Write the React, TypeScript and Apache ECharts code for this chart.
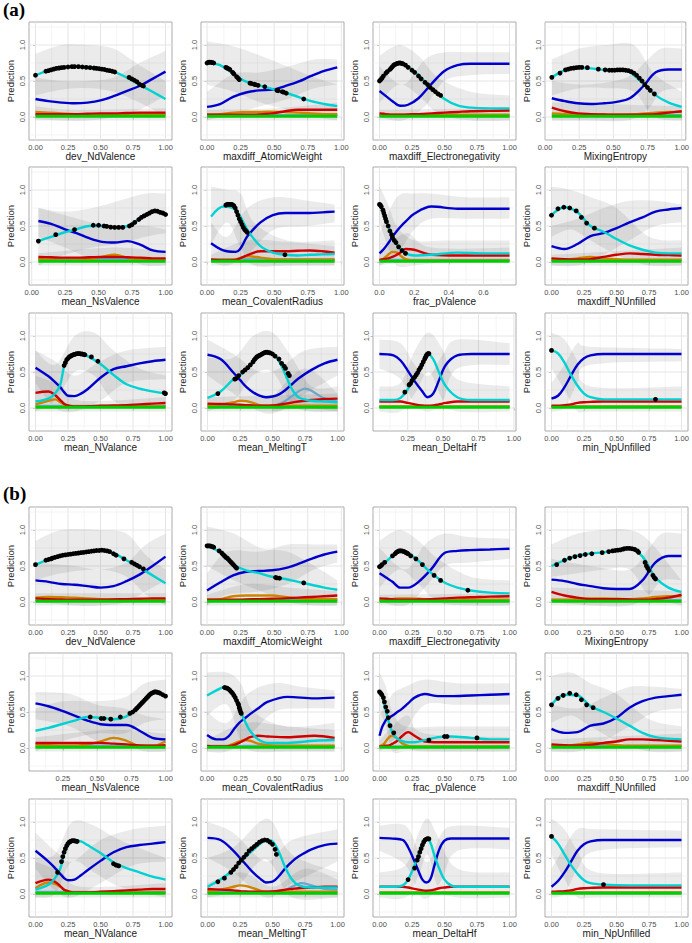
import React, { useEffect, useRef } from "react";
import * as echarts from "echarts";

// ---------- DATA ----------
const TITLES = [
  "dev_NdValence", "maxdiff_AtomicWeight", "maxdiff_Electronegativity", "MixingEntropy",
  "mean_NsValence", "mean_CovalentRadius", "frac_pValence", "maxdiff_NUnfilled",
  "mean_NValance", "mean_MeltingT", "mean_DeltaHf", "min_NpUnfilled",
];
const BLOCK_LABELS = ["(a)", "(b)"];
const Y_RANGE = [-0.32, 1.32];
const Y_TICKS = [0, 0.5, 1.0];

// x sample positions of the read curves
const U = [0, 0.1, 0.2, 0.3, 0.4, 0.5, 0.6, 0.7, 0.8, 0.9, 1.0];
const UW = [0, 0.097, 0.194, 0.291, 0.388, 0.485, 0.582, 0.679, 0.776, 0.873, 0.97];
const UM = [0.05, 0.145, 0.24, 0.335, 0.43, 0.525, 0.62, 0.715, 0.81, 0.905, 1.0];
const UC = [0.03, 0.122, 0.214, 0.306, 0.398, 0.49, 0.582, 0.674, 0.766, 0.858, 0.95];
const XE = [0, 0.05, 0.1, 0.16, 0.22, 0.3, 0.4, 0.5, 0.6, 0.7, 0.85, 1.0];
const XF = [0, 0.025, 0.05, 0.075, 0.1, 0.125, 0.15, 0.2, 0.3, 0.45, 0.6, 0.75];
const XN = [0, 0.1, 0.15, 0.19, 0.22, 0.25, 0.3, 0.35, 0.4, 0.5, 0.6, 0.7, 0.8, 0.9, 1.0];
const XT = [0, 0.1, 0.2, 0.25, 0.3, 0.35, 0.4, 0.45, 0.5, 0.55, 0.6, 0.65, 0.7, 0.8, 0.9, 1.0];
const XH_A = [0.05, 0.15, 0.2, 0.25, 0.3, 0.35, 0.39, 0.43, 0.47, 0.52, 0.6, 0.7, 0.85, 0.97];
const XP = [0, 0.05, 0.1, 0.15, 0.2, 0.25, 0.3, 0.4, 0.6, 0.8, 1.0];
const XC_B = [0, 0.07, 0.12, 0.16, 0.2, 0.24, 0.28, 0.32, 0.38, 0.45, 0.6, 0.8, 0.95];
const XF_B = [0, 0.02, 0.04, 0.06, 0.08, 0.1, 0.13, 0.17, 0.22, 0.27, 0.35, 0.45, 0.55, 0.7, 0.85, 1.0];
const XH_B = [0, 0.1, 0.18, 0.22, 0.27, 0.3, 0.33, 0.36, 0.39, 0.42, 0.46, 0.5, 0.55, 0.6, 0.8, 1.0];

const XS_A = [U, UW, XE, UM, UM, UC, XF, U, XN, XT, XH_A, XP];
const XS_B = [U, UW, XE, U, UM, XC_B, XF_B, U, XN, XT, XH_B, XP];

const X_RANGE_A = [[-0.05, 1.05], [-0.045, 1.02], [-0.05, 1.05], [0, 1.03], [-0.02, 1.048], [-0.045, 1.02],
  [-0.0375, 0.7875], [-0.05, 1.05], [-0.05, 1.05], [-0.05, 1.05], [0.005, 1.015], [-0.05, 1.05]];
const X_RANGE_B = [[-0.05, 1.05], [-0.045, 1.02], [-0.05, 1.05], [-0.05, 1.05], [0.0025, 1.0475], [-0.045, 1.02],
  [-0.05, 1.05], [-0.05, 1.05], [-0.05, 1.05], [-0.05, 1.05], [-0.05, 1.05], [-0.05, 1.05]];
const X_STEP_A = [0.25, 0.25, 0.25, 0.25, 0.25, 0.25, 0.2, 0.25, 0.25, 0.25, 0.25, 0.25];
const X_STEP_B = [0.25, 0.25, 0.25, 0.25, 0.25, 0.25, 0.25, 0.25, 0.25, 0.25, 0.25, 0.25];

const CYAN_A = [
  [0.58, 0.645, 0.685, 0.70, 0.695, 0.675, 0.63, 0.55, 0.45, 0.35, 0.25],
  [0.75, 0.72, 0.60, 0.49, 0.44, 0.39, 0.34, 0.28, 0.22, 0.18, 0.15],
  [0.50, 0.60, 0.69, 0.75, 0.70, 0.58, 0.40, 0.25, 0.16, 0.13, 0.12, 0.12],
  [0.55, 0.65, 0.685, 0.675, 0.655, 0.65, 0.62, 0.47, 0.30, 0.20, 0.14],
  [0.29, 0.35, 0.41, 0.455, 0.50, 0.50, 0.48, 0.50, 0.61, 0.70, 0.66],
  [0.63, 0.77, 0.72, 0.43, 0.22, 0.13, 0.10, 0.09, 0.10, 0.105, 0.11],
  [0.80, 0.68, 0.50, 0.36, 0.25, 0.17, 0.12, 0.09, 0.10, 0.13, 0.12, 0.12],
  [0.65, 0.76, 0.69, 0.50, 0.42, 0.32, 0.23, 0.17, 0.13, 0.12, 0.12],
  [0.09, 0.13, 0.20, 0.32, 0.58, 0.69, 0.745, 0.755, 0.72, 0.61, 0.46, 0.33, 0.27, 0.23, 0.20],
  [0.14, 0.23, 0.40, 0.455, 0.54, 0.64, 0.73, 0.775, 0.76, 0.65, 0.46, 0.26, 0.15, 0.10, 0.09, 0.08],
  [0.11, 0.11, 0.14, 0.26, 0.42, 0.60, 0.75, 0.68, 0.50, 0.30, 0.15, 0.11, 0.11, 0.11],
  [0.80, 0.76, 0.63, 0.46, 0.31, 0.20, 0.15, 0.12, 0.12, 0.12, 0.12],
];
const BLUE_A = [
  [0.25, 0.22, 0.20, 0.19, 0.20, 0.23, 0.29, 0.36, 0.43, 0.53, 0.63],
  [0.14, 0.18, 0.28, 0.34, 0.37, 0.38, 0.43, 0.49, 0.57, 0.64, 0.69],
  [0.36, 0.29, 0.22, 0.155, 0.17, 0.26, 0.46, 0.64, 0.72, 0.74, 0.74, 0.74],
  [0.26, 0.22, 0.19, 0.18, 0.19, 0.21, 0.26, 0.42, 0.62, 0.66, 0.66],
  [0.57, 0.53, 0.46, 0.40, 0.33, 0.28, 0.27, 0.29, 0.24, 0.16, 0.14],
  [0.26, 0.16, 0.14, 0.37, 0.55, 0.65, 0.68, 0.68, 0.68, 0.69, 0.70],
  [0.12, 0.18, 0.26, 0.35, 0.43, 0.50, 0.56, 0.67, 0.77, 0.74, 0.74, 0.74],
  [0.22, 0.18, 0.25, 0.36, 0.40, 0.47, 0.55, 0.62, 0.70, 0.73, 0.75],
  [0.56, 0.44, 0.36, 0.29, 0.22, 0.17, 0.165, 0.20, 0.26, 0.42, 0.54, 0.58, 0.62, 0.65, 0.67],
  [0.74, 0.68, 0.49, 0.39, 0.29, 0.22, 0.17, 0.15, 0.16, 0.19, 0.25, 0.33, 0.41, 0.53, 0.62, 0.67],
  [0.75, 0.73, 0.66, 0.52, 0.37, 0.24, 0.15, 0.20, 0.38, 0.60, 0.73, 0.75, 0.75, 0.75],
  [0.13, 0.17, 0.29, 0.45, 0.60, 0.69, 0.73, 0.75, 0.75, 0.75, 0.75],
];
const RED_A = [
  [0.04, 0.04, 0.04, 0.04, 0.045, 0.05, 0.05, 0.055, 0.06, 0.06, 0.06],
  [0.03, 0.03, 0.03, 0.03, 0.035, 0.05, 0.08, 0.10, 0.10, 0.10, 0.10],
  [0.05, 0.04, 0.03, 0.03, 0.035, 0.04, 0.05, 0.06, 0.07, 0.08, 0.085, 0.09],
  [0.13, 0.08, 0.05, 0.04, 0.035, 0.03, 0.03, 0.035, 0.04, 0.06, 0.08],
  [0.07, 0.065, 0.06, 0.06, 0.065, 0.07, 0.07, 0.065, 0.06, 0.05, 0.05],
  [0.03, 0.02, 0.03, 0.10, 0.15, 0.15, 0.15, 0.155, 0.16, 0.15, 0.13],
  [0.03, 0.04, 0.05, 0.07, 0.10, 0.14, 0.18, 0.17, 0.10, 0.09, 0.09, 0.09],
  [0.05, 0.04, 0.035, 0.04, 0.07, 0.10, 0.12, 0.11, 0.10, 0.095, 0.09],
  [0.21, 0.23, 0.18, 0.11, 0.06, 0.035, 0.02, 0.02, 0.025, 0.03, 0.035, 0.04, 0.05, 0.06, 0.07],
  [0.06, 0.055, 0.05, 0.045, 0.04, 0.035, 0.03, 0.03, 0.035, 0.045, 0.06, 0.075, 0.09, 0.11, 0.125, 0.13],
  [0.09, 0.09, 0.09, 0.07, 0.05, 0.035, 0.03, 0.035, 0.05, 0.07, 0.09, 0.09, 0.09, 0.09],
  [0.03, 0.03, 0.04, 0.05, 0.07, 0.08, 0.085, 0.09, 0.09, 0.09, 0.09],
];
const ORANGE_A = [
  [0.07, 0.06, 0.05, 0.04, 0.04, 0.04, 0.04, 0.04, 0.04, 0.04, 0.04],
  [0.03, 0.04, 0.06, 0.07, 0.07, 0.075, 0.07, 0.06, 0.05, 0.04, 0.04],
  [0.03, 0.03, 0.03, 0.03, 0.03, 0.03, 0.03, 0.03, 0.03, 0.03, 0.03, 0.03],
  [0.05, 0.04, 0.03, 0.03, 0.03, 0.03, 0.035, 0.045, 0.06, 0.07, 0.075],
  [0.04, 0.03, 0.02, 0.025, 0.04, 0.07, 0.10, 0.06, 0.03, 0.03, 0.03],
  [0.03, 0.03, 0.04, 0.08, 0.06, 0.04, 0.03, 0.03, 0.03, 0.03, 0.03],
  [0.02, 0.05, 0.10, 0.14, 0.13, 0.08, 0.04, 0.02, 0.02, 0.02, 0.02, 0.02],
  [0.03, 0.03, 0.05, 0.07, 0.05, 0.04, 0.03, 0.03, 0.03, 0.03, 0.03],
  [0.05, 0.10, 0.12, 0.08, 0.05, 0.03, 0.02, 0.02, 0.02, 0.02, 0.02, 0.02, 0.02, 0.02, 0.02],
  [0.04, 0.05, 0.08, 0.10, 0.095, 0.07, 0.04, 0.03, 0.03, 0.03, 0.03, 0.03, 0.03, 0.03, 0.03, 0.03],
  [0.02, 0.02, 0.02, 0.02, 0.02, 0.02, 0.02, 0.02, 0.02, 0.02, 0.02, 0.02, 0.02, 0.02],
  [0.02, 0.02, 0.02, 0.02, 0.02, 0.02, 0.02, 0.02, 0.02, 0.02, 0.02],
];
const GREEN_A = [0.01, 0.01, 0.01, 0.01, 0.01, 0.01, 0.01, 0.01, 0.01, 0.01, 0.01, 0.01];
const STEEL_A = [
  [[0, 0.03], [1, 0.03]], [[0, 0.03], [0.97, 0.03]], [[0, 0.02], [1, 0.02]], [[0.05, 0.03], [1, 0.03]],
  [[0.05, 0.04], [1, 0.04]], [[0.03, 0.04], [0.95, 0.04]], [[0, 0.03], [0.75, 0.03]], [[0, 0.03], [1, 0.03]],
  [[0, 0.03], [1, 0.03]],
  [[0, 0.03], [0.5, 0.03], [0.6, 0.1], [0.7, 0.23], [0.75, 0.27], [0.8, 0.24], [0.9, 0.13], [1, 0.09]],
  [[0.05, 0.02], [0.97, 0.02]], [[0, 0.02], [1, 0.02]],
];
const DOTS_A = [
  [[0, 0.58], [0.08, 0.635], [0.1, 0.645], [0.12, 0.655], [0.14, 0.665], [0.16, 0.675], [0.18, 0.68], [0.2, 0.685], [0.22, 0.69], [0.25, 0.695], [0.28, 0.7], [0.3, 0.7], [0.33, 0.7], [0.36, 0.695], [0.39, 0.69], [0.42, 0.685], [0.45, 0.68], [0.47, 0.675], [0.49, 0.67], [0.51, 0.665], [0.53, 0.66], [0.55, 0.65], [0.57, 0.645], [0.59, 0.635], [0.61, 0.625], [0.72, 0.55], [0.74, 0.53], [0.76, 0.51], [0.78, 0.49], [0.8, 0.455], [0.82, 0.44], [0.83, 0.43]],
  [[0, 0.75], [0.01, 0.76], [0.02, 0.76], [0.03, 0.76], [0.04, 0.755], [0.05, 0.75], [0.14, 0.69], [0.15, 0.68], [0.16, 0.67], [0.17, 0.66], [0.19, 0.62], [0.2, 0.6], [0.22, 0.56], [0.23, 0.54], [0.24, 0.52], [0.32, 0.47], [0.33, 0.465], [0.35, 0.455], [0.36, 0.45], [0.38, 0.44], [0.43, 0.42], [0.52, 0.37], [0.53, 0.365], [0.56, 0.35], [0.57, 0.345], [0.59, 0.33], [0.72, 0.25]],
  [[0, 0.5], [0.01, 0.52], [0.02, 0.54], [0.03, 0.57], [0.05, 0.61], [0.06, 0.63], [0.08, 0.66], [0.09, 0.68], [0.1, 0.7], [0.11, 0.72], [0.12, 0.73], [0.13, 0.74], [0.14, 0.745], [0.15, 0.75], [0.16, 0.75], [0.17, 0.745], [0.18, 0.74], [0.2, 0.72], [0.22, 0.69], [0.25, 0.65], [0.27, 0.62], [0.3, 0.57], [0.32, 0.53], [0.35, 0.48], [0.37, 0.45], [0.39, 0.41], [0.41, 0.38], [0.43, 0.35], [0.45, 0.32], [0.47, 0.3]],
  [[0.05, 0.55], [0.11, 0.61], [0.15, 0.655], [0.17, 0.665], [0.19, 0.675], [0.21, 0.68], [0.23, 0.685], [0.25, 0.69], [0.27, 0.69], [0.31, 0.685], [0.39, 0.665], [0.44, 0.655], [0.47, 0.65], [0.49, 0.65], [0.51, 0.65], [0.53, 0.655], [0.55, 0.655], [0.57, 0.655], [0.59, 0.65], [0.61, 0.645], [0.63, 0.63], [0.65, 0.61], [0.67, 0.58], [0.69, 0.54], [0.71, 0.5], [0.73, 0.45], [0.75, 0.41], [0.77, 0.37], [0.8, 0.32]],
  [[0.05, 0.29], [0.18, 0.38], [0.32, 0.45], [0.46, 0.51], [0.5, 0.51], [0.54, 0.5], [0.56, 0.495], [0.59, 0.485], [0.62, 0.48], [0.65, 0.48], [0.68, 0.48], [0.73, 0.5], [0.75, 0.52], [0.77, 0.55], [0.8, 0.59], [0.82, 0.62], [0.84, 0.64], [0.86, 0.66], [0.88, 0.68], [0.9, 0.7], [0.92, 0.71], [0.94, 0.705], [0.96, 0.69], [0.98, 0.68], [1.0, 0.66]],
  [[0.14, 0.79], [0.15, 0.8], [0.16, 0.8], [0.17, 0.8], [0.18, 0.8], [0.19, 0.795], [0.2, 0.78], [0.21, 0.75], [0.22, 0.7], [0.23, 0.65], [0.24, 0.6], [0.25, 0.56], [0.26, 0.52], [0.27, 0.48], [0.28, 0.45], [0.29, 0.43], [0.3, 0.41], [0.58, 0.1]],
  [[0, 0.8], [0.005, 0.79], [0.01, 0.77], [0.02, 0.72], [0.025, 0.68], [0.03, 0.64], [0.035, 0.6], [0.04, 0.56], [0.05, 0.5], [0.06, 0.43], [0.07, 0.38], [0.075, 0.34], [0.085, 0.3], [0.095, 0.27], [0.11, 0.21], [0.13, 0.16], [0.15, 0.12]],
  [[0, 0.65], [0.05, 0.74], [0.095, 0.76], [0.14, 0.75], [0.19, 0.71], [0.23, 0.62], [0.27, 0.54], [0.33, 0.47]],
  [[0.22, 0.59], [0.23, 0.63], [0.24, 0.67], [0.25, 0.69], [0.26, 0.71], [0.27, 0.72], [0.28, 0.73], [0.29, 0.74], [0.3, 0.745], [0.31, 0.75], [0.32, 0.755], [0.33, 0.755], [0.34, 0.755], [0.35, 0.75], [0.36, 0.75], [0.37, 0.745], [0.38, 0.74], [0.43, 0.71], [0.48, 0.65], [0.99, 0.21], [1.0, 0.2]],
  [[0.08, 0.2], [0.21, 0.4], [0.22, 0.41], [0.24, 0.45], [0.27, 0.5], [0.29, 0.53], [0.31, 0.56], [0.33, 0.6], [0.35, 0.64], [0.36, 0.67], [0.37, 0.69], [0.38, 0.71], [0.39, 0.72], [0.4, 0.73], [0.41, 0.74], [0.42, 0.75], [0.43, 0.76], [0.44, 0.77], [0.45, 0.775], [0.46, 0.775], [0.47, 0.77], [0.48, 0.765], [0.5, 0.75], [0.52, 0.72], [0.55, 0.68], [0.57, 0.62], [0.59, 0.58], [0.6, 0.55], [0.62, 0.48], [0.63, 0.45]],
  [[0.23, 0.22], [0.26, 0.32], [0.27, 0.34], [0.28, 0.38], [0.29, 0.41], [0.3, 0.43], [0.31, 0.46], [0.32, 0.49], [0.33, 0.53], [0.34, 0.56], [0.35, 0.6], [0.36, 0.64], [0.37, 0.68], [0.375, 0.7], [0.38, 0.72], [0.385, 0.74], [0.39, 0.75], [0.395, 0.755], [0.4, 0.755]],
  [[0, 0.8], [0.8, 0.12]],
];
const BANDS_A = [
  [[[0, 0.3, 0.88], [0.2, 0.38, 1.0], [0.4, 0.4, 1.0], [0.6, 0.35, 0.95], [0.8, 0.2, 0.72], [1, 0.0, 0.5]],
   [[0, -0.03, 0.55], [0.2, -0.05, 0.5], [0.4, -0.05, 0.5], [0.6, 0.0, 0.55], [0.8, 0.1, 0.75], [1, 0.3, 0.92]],
   [[0, -0.05, 0.15], [0.3, -0.05, 0.1], [1, -0.05, 0.12]]],
  [[[0, 0.45, 1.05], [0.2, 0.35, 0.98], [0.4, 0.2, 0.85], [0.6, 0.1, 0.7], [0.8, 0.0, 0.55], [0.97, -0.05, 0.45]],
   [[0, -0.05, 0.35], [0.2, 0.05, 0.6], [0.4, 0.15, 0.62], [0.6, 0.25, 0.7], [0.8, 0.4, 0.8], [0.97, 0.45, 0.8]],
   [[0, -0.05, 0.1], [0.5, -0.05, 0.12], [0.97, -0.05, 0.2]]],
  [[[0, 0.2, 0.85], [0.15, 0.45, 1.0], [0.3, 0.3, 0.85], [0.45, 0.05, 0.55], [0.7, -0.05, 0.35], [1, -0.05, 0.3]],
   [[0, 0.0, 0.7], [0.18, -0.05, 0.45], [0.35, 0.15, 0.8], [0.5, 0.5, 0.9], [0.7, 0.58, 0.9], [1, 0.6, 0.9]],
   [[0, -0.05, 0.1], [1, -0.05, 0.12]]],
  [[[0.05, 0.3, 0.8], [0.25, 0.4, 0.95], [0.45, 0.4, 1.0], [0.65, 0.35, 1.0], [0.8, 0.0, 0.6], [1, -0.05, 0.35]],
   [[0.05, -0.05, 0.5], [0.3, -0.05, 0.45], [0.6, -0.05, 0.55], [0.75, 0.1, 0.8], [0.85, 0.35, 0.95], [1, 0.4, 0.95]],
   [[0.05, -0.05, 0.2], [1, -0.05, 0.15]]],
  [[[0.05, -0.05, 0.75], [0.25, 0.1, 0.7], [0.45, 0.2, 0.75], [0.65, 0.25, 0.85], [0.85, 0.35, 0.95], [1, 0.4, 0.95]],
   [[0.05, 0.35, 0.75], [0.25, 0.2, 0.65], [0.45, 0.05, 0.55], [0.65, 0.05, 0.5], [0.85, -0.05, 0.5], [1, -0.05, 0.45]],
   [[0.05, -0.05, 0.12], [0.6, -0.05, 0.2], [1, -0.05, 0.15]]],
  [[[0.03, 0.25, 1.05], [0.15, 0.55, 1.0], [0.25, 0.2, 0.95], [0.35, -0.05, 0.55], [0.6, -0.05, 0.3], [0.95, -0.05, 0.3]],
   [[0.03, 0.0, 0.55], [0.15, -0.05, 0.35], [0.3, 0.1, 0.75], [0.5, 0.45, 0.9], [0.75, 0.5, 0.85], [0.95, 0.55, 0.8]],
   [[0.03, -0.05, 0.1], [0.3, -0.05, 0.3], [0.6, -0.05, 0.28], [0.95, -0.05, 0.22]]],
  [[[0, 0.55, 1.05], [0.05, 0.2, 0.8], [0.1, -0.05, 0.5], [0.2, -0.05, 0.3], [0.4, 0.0, 0.3], [0.75, 0.0, 0.3]],
   [[0, -0.05, 0.4], [0.1, 0.1, 0.9], [0.2, 0.45, 0.95], [0.3, 0.6, 0.95], [0.5, 0.6, 0.9], [0.75, 0.6, 0.9]],
   [[0, -0.05, 0.1], [0.15, 0.0, 0.4], [0.3, 0.0, 0.2], [0.75, 0.0, 0.2]]],
  [[[0, 0.35, 1.05], [0.15, 0.45, 1.0], [0.3, 0.3, 0.9], [0.5, 0.1, 0.75], [0.75, -0.05, 0.35], [1, -0.05, 0.3]],
   [[0, -0.05, 0.5], [0.2, -0.05, 0.6], [0.4, 0.1, 0.75], [0.6, 0.3, 0.85], [0.8, 0.5, 0.85], [1, 0.55, 0.8]],
   [[0, -0.05, 0.1], [1, -0.05, 0.2]]],
  [[[0, -0.05, 0.8], [0.15, 0.1, 0.6], [0.3, 0.5, 1.0], [0.45, 0.45, 1.05], [0.6, 0.1, 0.8], [0.8, 0.0, 0.55], [1, 0.0, 0.45]],
   [[0, 0.35, 0.8], [0.15, 0.0, 0.65], [0.3, -0.05, 0.45], [0.5, 0.1, 0.65], [0.7, 0.35, 0.8], [1, 0.4, 0.85]],
   [[0, -0.05, 0.45], [0.2, -0.05, 0.3], [0.35, -0.05, 0.1], [1, -0.05, 0.15]]],
  [[[0, -0.05, 0.7], [0.2, 0.1, 0.7], [0.35, 0.45, 1.0], [0.5, 0.5, 1.05], [0.65, 0.05, 0.7], [0.8, -0.05, 0.3], [1, -0.05, 0.3]],
   [[0, 0.45, 0.95], [0.2, 0.2, 0.75], [0.4, -0.05, 0.5], [0.55, -0.05, 0.55], [0.75, 0.2, 0.8], [1, 0.45, 0.85]],
   [[0.5, -0.05, 0.15], [0.75, 0.0, 0.55], [1, -0.05, 0.2]],
   [[0, -0.05, 0.15], [1, -0.05, 0.2]]],
  [[[0.05, -0.05, 0.3], [0.2, -0.05, 0.35], [0.3, 0.2, 0.8], [0.4, 0.5, 1.05], [0.5, 0.1, 0.8], [0.6, -0.05, 0.4], [0.97, -0.05, 0.3]],
   [[0.05, 0.55, 0.95], [0.2, 0.4, 0.9], [0.3, 0.05, 0.6], [0.4, -0.05, 0.45], [0.5, 0.1, 0.75], [0.6, 0.55, 0.95], [0.97, 0.6, 0.9]]],
  [[[0, 0.55, 1.05], [0.1, 0.25, 0.95], [0.2, -0.05, 0.65], [0.3, -0.05, 0.3], [1, -0.05, 0.3]],
   [[0, -0.05, 0.35], [0.1, 0.0, 0.6], [0.2, 0.35, 0.9], [0.3, 0.6, 0.85], [1, 0.65, 0.82]]],
];

const CYAN_B = [
  [0.52, 0.59, 0.64, 0.67, 0.70, 0.72, 0.68, 0.58, 0.48, 0.37, 0.26],
  [0.78, 0.69, 0.52, 0.44, 0.40, 0.35, 0.32, 0.28, 0.24, 0.20, 0.17],
  [0.49, 0.56, 0.64, 0.71, 0.68, 0.57, 0.40, 0.27, 0.20, 0.16, 0.13, 0.12],
  [0.50, 0.58, 0.645, 0.675, 0.69, 0.72, 0.75, 0.63, 0.34, 0.20, 0.14],
  [0.24, 0.28, 0.33, 0.38, 0.43, 0.42, 0.40, 0.44, 0.58, 0.77, 0.72],
  [0.73, 0.80, 0.84, 0.81, 0.72, 0.55, 0.38, 0.24, 0.12, 0.07, 0.07, 0.10, 0.11],
  [0.78, 0.71, 0.58, 0.43, 0.31, 0.21, 0.14, 0.10, 0.08, 0.08, 0.11, 0.15, 0.16, 0.14, 0.12, 0.12],
  [0.60, 0.74, 0.73, 0.58, 0.50, 0.41, 0.31, 0.21, 0.15, 0.13, 0.12],
  [0.06, 0.13, 0.22, 0.35, 0.55, 0.68, 0.74, 0.73, 0.68, 0.57, 0.44, 0.36, 0.30, 0.24, 0.20],
  [0.10, 0.20, 0.34, 0.44, 0.53, 0.61, 0.69, 0.75, 0.73, 0.58, 0.36, 0.20, 0.12, 0.09, 0.09, 0.09],
  [0.10, 0.10, 0.12, 0.20, 0.40, 0.55, 0.70, 0.77, 0.72, 0.55, 0.35, 0.20, 0.12, 0.10, 0.10, 0.10],
  [0.80, 0.70, 0.55, 0.40, 0.28, 0.19, 0.15, 0.13, 0.12, 0.12, 0.12],
];
const BLUE_B = [
  [0.30, 0.28, 0.25, 0.24, 0.22, 0.20, 0.22, 0.29, 0.38, 0.50, 0.63],
  [0.16, 0.27, 0.37, 0.42, 0.43, 0.44, 0.47, 0.53, 0.60, 0.66, 0.70],
  [0.40, 0.34, 0.28, 0.20, 0.20, 0.28, 0.46, 0.68, 0.71, 0.72, 0.73, 0.74],
  [0.31, 0.29, 0.25, 0.22, 0.19, 0.18, 0.18, 0.30, 0.55, 0.64, 0.64],
  [0.62, 0.58, 0.52, 0.45, 0.38, 0.33, 0.32, 0.32, 0.24, 0.14, 0.12],
  [0.18, 0.12, 0.12, 0.16, 0.26, 0.35, 0.41, 0.47, 0.55, 0.64, 0.71, 0.69, 0.70],
  [0.17, 0.29, 0.36, 0.41, 0.43, 0.45, 0.49, 0.54, 0.62, 0.70, 0.75, 0.72, 0.72, 0.73, 0.74, 0.75],
  [0.265, 0.21, 0.22, 0.31, 0.34, 0.42, 0.56, 0.65, 0.70, 0.72, 0.74],
  [0.60, 0.45, 0.36, 0.28, 0.22, 0.19, 0.20, 0.26, 0.33, 0.46, 0.58, 0.65, 0.68, 0.70, 0.72],
  [0.78, 0.75, 0.60, 0.50, 0.40, 0.30, 0.22, 0.16, 0.17, 0.25, 0.36, 0.45, 0.52, 0.62, 0.68, 0.70],
  [0.78, 0.77, 0.75, 0.65, 0.45, 0.32, 0.20, 0.16, 0.20, 0.38, 0.62, 0.74, 0.77, 0.77, 0.77, 0.77],
  [0.10, 0.18, 0.30, 0.45, 0.60, 0.69, 0.73, 0.75, 0.75, 0.75, 0.75],
];
const RED_B = [
  [0.05, 0.04, 0.035, 0.03, 0.03, 0.03, 0.035, 0.04, 0.045, 0.05, 0.05],
  [0.03, 0.03, 0.03, 0.035, 0.04, 0.045, 0.05, 0.06, 0.07, 0.08, 0.09],
  [0.05, 0.045, 0.04, 0.03, 0.03, 0.035, 0.04, 0.05, 0.06, 0.065, 0.075, 0.08],
  [0.14, 0.09, 0.06, 0.04, 0.04, 0.04, 0.035, 0.03, 0.04, 0.06, 0.10],
  [0.07, 0.07, 0.07, 0.07, 0.07, 0.07, 0.06, 0.05, 0.035, 0.03, 0.04],
  [0.03, 0.02, 0.02, 0.025, 0.04, 0.07, 0.11, 0.15, 0.17, 0.16, 0.15, 0.17, 0.14],
  [0.02, 0.02, 0.03, 0.03, 0.04, 0.06, 0.09, 0.16, 0.22, 0.17, 0.09, 0.08, 0.08, 0.08, 0.08, 0.08],
  [0.05, 0.04, 0.035, 0.045, 0.07, 0.09, 0.12, 0.12, 0.11, 0.10, 0.09],
  [0.15, 0.20, 0.17, 0.11, 0.06, 0.04, 0.02, 0.02, 0.02, 0.03, 0.04, 0.05, 0.06, 0.07, 0.07],
  [0.07, 0.06, 0.05, 0.04, 0.035, 0.03, 0.03, 0.03, 0.035, 0.045, 0.06, 0.07, 0.08, 0.09, 0.10, 0.10],
  [0.10, 0.10, 0.10, 0.09, 0.07, 0.06, 0.05, 0.045, 0.05, 0.06, 0.08, 0.09, 0.10, 0.10, 0.10, 0.10],
  [0.03, 0.035, 0.04, 0.05, 0.07, 0.08, 0.085, 0.09, 0.09, 0.09, 0.09],
];
const ORANGE_B = [
  [0.06, 0.07, 0.065, 0.06, 0.05, 0.04, 0.04, 0.04, 0.04, 0.04, 0.04],
  [0.03, 0.04, 0.08, 0.09, 0.09, 0.09, 0.07, 0.05, 0.04, 0.04, 0.04],
  [0.03, 0.03, 0.04, 0.05, 0.05, 0.045, 0.035, 0.03, 0.03, 0.03, 0.03, 0.03],
  [0.03, 0.03, 0.04, 0.05, 0.05, 0.045, 0.04, 0.05, 0.07, 0.08, 0.08],
  [0.05, 0.04, 0.03, 0.03, 0.05, 0.09, 0.14, 0.10, 0.03, 0.03, 0.09],
  [0.02, 0.02, 0.02, 0.03, 0.06, 0.09, 0.11, 0.10, 0.06, 0.04, 0.03, 0.03, 0.03],
  [0.02, 0.04, 0.07, 0.12, 0.16, 0.17, 0.14, 0.07, 0.03, 0.02, 0.02, 0.02, 0.02, 0.02, 0.02, 0.02],
  [0.03, 0.03, 0.05, 0.075, 0.06, 0.04, 0.03, 0.03, 0.03, 0.03, 0.03],
  [0.08, 0.16, 0.14, 0.10, 0.06, 0.03, 0.02, 0.02, 0.02, 0.02, 0.02, 0.02, 0.02, 0.02, 0.02],
  [0.04, 0.06, 0.10, 0.12, 0.11, 0.08, 0.05, 0.03, 0.03, 0.03, 0.03, 0.03, 0.03, 0.03, 0.03, 0.03],
  [0.02, 0.02, 0.02, 0.02, 0.02, 0.02, 0.02, 0.02, 0.02, 0.02, 0.02, 0.02, 0.02, 0.02, 0.02, 0.02],
  [0.02, 0.02, 0.02, 0.02, 0.02, 0.02, 0.02, 0.02, 0.02, 0.02, 0.02],
];
const GREEN_B = [0.01, 0.01, 0.01, 0.01, 0.01, 0.01, 0.01, 0.01, 0.01, 0.01, 0.01, 0.01];
const STEEL_B = [
  [[0, 0.03], [1, 0.03]], [[0, 0.03], [0.97, 0.03]], [[0, 0.02], [1, 0.02]], [[0, 0.03], [1, 0.03]],
  [[0.05, 0.03], [1, 0.03]], [[0, 0.03], [0.95, 0.03]], [[0, 0.02], [1, 0.02]], [[0, 0.03], [1, 0.03]],
  [[0, 0.03], [1, 0.03]],
  [[0, 0.03], [0.55, 0.03], [0.65, 0.1], [0.72, 0.15], [0.8, 0.12], [0.9, 0.07], [1, 0.06]],
  [[0, 0.02], [1, 0.02]], [[0, 0.02], [1, 0.02]],
];
const DOTS_B = [
  [[0, 0.52], [0.08, 0.58], [0.1, 0.59], [0.12, 0.6], [0.13, 0.61], [0.15, 0.62], [0.17, 0.63], [0.19, 0.64], [0.21, 0.65], [0.23, 0.655], [0.25, 0.66], [0.27, 0.665], [0.29, 0.67], [0.31, 0.675], [0.33, 0.68], [0.35, 0.685], [0.37, 0.69], [0.39, 0.695], [0.41, 0.7], [0.43, 0.705], [0.45, 0.71], [0.47, 0.715], [0.49, 0.715], [0.51, 0.72], [0.53, 0.715], [0.55, 0.71], [0.57, 0.7], [0.6, 0.67], [0.62, 0.65], [0.68, 0.6], [0.74, 0.55], [0.76, 0.53], [0.78, 0.51], [0.8, 0.49], [0.83, 0.46]],
  [[0, 0.78], [0.01, 0.78], [0.02, 0.78], [0.03, 0.775], [0.04, 0.77], [0.05, 0.76], [0.09, 0.71], [0.11, 0.68], [0.12, 0.66], [0.13, 0.64], [0.14, 0.62], [0.15, 0.61], [0.16, 0.59], [0.17, 0.57], [0.18, 0.55], [0.19, 0.53], [0.2, 0.51], [0.21, 0.49], [0.22, 0.47], [0.51, 0.34], [0.52, 0.335], [0.54, 0.33], [0.72, 0.265]],
  [[0, 0.49], [0.01, 0.5], [0.02, 0.52], [0.04, 0.55], [0.1, 0.64], [0.12, 0.67], [0.13, 0.69], [0.14, 0.7], [0.15, 0.71], [0.16, 0.71], [0.17, 0.71], [0.18, 0.705], [0.19, 0.7], [0.2, 0.69], [0.21, 0.68], [0.22, 0.67], [0.24, 0.64], [0.28, 0.6], [0.33, 0.52], [0.42, 0.37], [0.47, 0.3], [0.68, 0.163]],
  [[0.04, 0.52], [0.1, 0.58], [0.14, 0.61], [0.18, 0.63], [0.22, 0.645], [0.26, 0.66], [0.31, 0.67], [0.39, 0.685], [0.44, 0.7], [0.47, 0.71], [0.49, 0.715], [0.51, 0.72], [0.53, 0.725], [0.55, 0.735], [0.56, 0.74], [0.58, 0.745], [0.6, 0.745], [0.62, 0.74], [0.64, 0.73], [0.66, 0.71], [0.67, 0.69], [0.72, 0.55], [0.73, 0.5], [0.74, 0.47], [0.75, 0.44], [0.78, 0.37], [0.79, 0.34], [0.8, 0.32]],
  [[0.45, 0.43], [0.53, 0.41], [0.55, 0.41], [0.6, 0.4], [0.67, 0.43], [0.74, 0.48], [0.76, 0.5], [0.78, 0.53], [0.79, 0.55], [0.8, 0.57], [0.81, 0.59], [0.82, 0.61], [0.83, 0.63], [0.84, 0.65], [0.85, 0.67], [0.86, 0.69], [0.87, 0.71], [0.88, 0.73], [0.89, 0.75], [0.9, 0.76], [0.91, 0.77], [0.92, 0.78], [0.93, 0.78], [0.94, 0.775], [0.95, 0.77], [0.96, 0.76], [0.98, 0.74], [1.0, 0.72]],
  [[0.13, 0.84], [0.14, 0.835], [0.15, 0.83], [0.16, 0.82], [0.17, 0.8], [0.18, 0.78], [0.19, 0.76], [0.2, 0.73], [0.21, 0.7], [0.22, 0.66], [0.23, 0.62], [0.235, 0.6], [0.24, 0.56], [0.245, 0.53], [0.25, 0.5], [0.255, 0.48]],
  [[0, 0.78], [0.01, 0.76], [0.018, 0.74], [0.03, 0.7], [0.038, 0.64], [0.048, 0.57], [0.06, 0.51], [0.068, 0.42], [0.081, 0.31], [0.11, 0.21], [0.38, 0.11], [0.5, 0.16], [0.52, 0.16], [0.75, 0.14]],
  [[0, 0.6], [0.05, 0.69], [0.09, 0.73], [0.14, 0.76], [0.19, 0.74], [0.23, 0.67], [0.27, 0.6], [0.32, 0.56]],
  [[0.17, 0.3], [0.2, 0.45], [0.21, 0.52], [0.22, 0.58], [0.23, 0.63], [0.24, 0.67], [0.25, 0.7], [0.26, 0.72], [0.27, 0.73], [0.28, 0.74], [0.29, 0.74], [0.3, 0.74], [0.31, 0.735], [0.32, 0.73], [0.6, 0.42], [0.62, 0.4], [0.64, 0.39]],
  [[0.08, 0.17], [0.13, 0.22], [0.18, 0.3], [0.2, 0.34], [0.22, 0.38], [0.24, 0.43], [0.26, 0.47], [0.28, 0.51], [0.3, 0.55], [0.32, 0.6], [0.34, 0.63], [0.36, 0.66], [0.38, 0.69], [0.4, 0.72], [0.42, 0.74], [0.44, 0.75], [0.46, 0.745], [0.48, 0.72], [0.5, 0.69], [0.52, 0.62], [0.53, 0.55]],
  [[0.22, 0.2], [0.27, 0.36], [0.29, 0.47], [0.3, 0.52], [0.31, 0.58], [0.32, 0.63], [0.33, 0.68], [0.34, 0.72], [0.35, 0.75], [0.36, 0.76], [0.37, 0.77], [0.38, 0.765]],
  [[0, 0.8], [0.4, 0.13]],
];
const BANDS_B = [
  [[[0, 0.3, 0.85], [0.2, 0.4, 1.0], [0.5, 0.45, 1.0], [0.7, 0.35, 0.95], [0.85, 0.1, 0.65], [1, -0.05, 0.45]],
   [[0, 0.0, 0.55], [0.3, -0.05, 0.5], [0.5, -0.05, 0.45], [0.7, 0.0, 0.55], [0.85, 0.15, 0.8], [1, 0.3, 0.95]],
   [[0, -0.05, 0.12], [1, -0.05, 0.12]]],
  [[[0, 0.5, 1.05], [0.2, 0.3, 0.95], [0.4, 0.15, 0.75], [0.6, 0.0, 0.7], [0.8, -0.05, 0.5], [0.97, -0.05, 0.3]],
   [[0, -0.05, 0.4], [0.15, 0.1, 0.7], [0.4, 0.15, 0.7], [0.6, 0.25, 0.8], [0.8, 0.45, 0.8], [0.97, 0.55, 0.8]],
   [[0, -0.05, 0.1], [0.3, -0.05, 0.25], [0.6, -0.05, 0.2], [0.97, -0.05, 0.15]]],
  [[[0, 0.2, 0.85], [0.15, 0.45, 1.0], [0.3, 0.25, 0.85], [0.45, 0.0, 0.6], [0.7, -0.05, 0.35], [1, -0.05, 0.3]],
   [[0, 0.0, 0.75], [0.2, -0.05, 0.45], [0.35, 0.2, 0.8], [0.5, 0.5, 0.95], [0.7, 0.55, 0.9], [1, 0.6, 0.88]],
   [[0, -0.05, 0.1], [1, -0.05, 0.12]]],
  [[[0, 0.35, 0.8], [0.2, 0.4, 0.95], [0.4, 0.45, 1.0], [0.6, 0.45, 1.0], [0.75, 0.1, 0.85], [1, -0.05, 0.3]],
   [[0, 0.0, 0.6], [0.3, -0.05, 0.5], [0.6, -0.05, 0.45], [0.75, 0.1, 0.75], [0.85, 0.3, 0.95], [1, 0.3, 0.95]],
   [[0, -0.05, 0.2], [1, -0.05, 0.15]]],
  [[[0.05, -0.05, 0.55], [0.25, 0.1, 0.65], [0.5, 0.2, 0.65], [0.7, 0.2, 0.7], [0.85, 0.35, 0.9], [1, 0.4, 0.95]],
   [[0.05, 0.4, 0.78], [0.3, 0.3, 0.75], [0.5, 0.1, 0.6], [0.7, 0.05, 0.55], [0.85, -0.05, 0.45], [1, -0.05, 0.4]],
   [[0.05, -0.05, 0.15], [0.6, -0.05, 0.25], [1, -0.05, 0.2]]],
  [[[0, 0.45, 1.05], [0.15, 0.6, 1.05], [0.25, 0.1, 0.9], [0.35, -0.05, 0.5], [0.6, -0.05, 0.3], [0.95, -0.05, 0.35]],
   [[0, -0.05, 0.5], [0.15, -0.05, 0.35], [0.3, 0.15, 0.75], [0.5, 0.5, 0.9], [0.7, 0.55, 0.85], [0.95, 0.55, 0.8]],
   [[0, -0.05, 0.12], [0.3, -0.05, 0.35], [0.6, -0.05, 0.3], [0.95, -0.05, 0.25]]],
  [[[0, 0.5, 1.05], [0.05, 0.3, 0.85], [0.1, -0.05, 0.5], [0.2, -0.05, 0.3], [0.5, -0.05, 0.3], [1, -0.05, 0.3]],
   [[0, -0.05, 0.45], [0.1, 0.1, 0.75], [0.2, 0.25, 0.85], [0.35, 0.6, 0.95], [0.6, 0.6, 0.9], [1, 0.6, 0.9]],
   [[0, -0.05, 0.1], [0.1, -0.05, 0.3], [0.22, 0.0, 0.45], [0.35, -0.05, 0.2], [1, -0.05, 0.15]]],
  [[[0, 0.35, 1.0], [0.15, 0.45, 1.05], [0.3, 0.3, 0.9], [0.5, 0.1, 0.75], [0.75, -0.05, 0.4], [1, -0.05, 0.3]],
   [[0, -0.05, 0.6], [0.2, -0.05, 0.55], [0.4, 0.1, 0.7], [0.6, 0.3, 0.85], [0.8, 0.5, 0.85], [1, 0.55, 0.82]],
   [[0, -0.05, 0.12], [1, -0.05, 0.2]]],
  [[[0, -0.05, 0.5], [0.15, 0.0, 0.55], [0.28, 0.45, 1.0], [0.45, 0.3, 0.95], [0.65, 0.1, 0.75], [1, -0.05, 0.5]],
   [[0, 0.35, 0.85], [0.15, 0.05, 0.6], [0.28, -0.05, 0.45], [0.5, 0.15, 0.75], [0.75, 0.4, 0.9], [1, 0.45, 0.95]],
   [[0, -0.05, 0.45], [0.2, -0.05, 0.3], [0.35, -0.05, 0.1], [1, -0.05, 0.15]]],
  [[[0, -0.05, 0.5], [0.2, 0.05, 0.65], [0.4, 0.45, 1.0], [0.5, 0.4, 1.0], [0.65, -0.05, 0.55], [1, -0.05, 0.3]],
   [[0, 0.5, 1.0], [0.2, 0.3, 0.85], [0.45, -0.05, 0.45], [0.65, 0.15, 0.75], [1, 0.45, 0.9]],
   [[0, -0.05, 0.15], [0.27, -0.05, 0.3], [0.5, -0.05, 0.1], [0.75, -0.05, 0.35], [1, -0.05, 0.2]]],
  [[[0, -0.05, 0.3], [0.2, -0.05, 0.4], [0.3, 0.25, 0.85], [0.37, 0.55, 1.05], [0.45, 0.1, 0.8], [0.6, -0.05, 0.35], [1, -0.05, 0.3]],
   [[0, 0.6, 0.95], [0.2, 0.4, 0.95], [0.3, 0.0, 0.6], [0.38, -0.05, 0.45], [0.48, 0.2, 0.85], [0.6, 0.6, 0.95], [1, 0.62, 0.92]]],
  [[[0, 0.55, 1.05], [0.1, 0.2, 0.9], [0.2, -0.05, 0.6], [0.35, -0.05, 0.3], [1, -0.05, 0.3]],
   [[0, -0.05, 0.35], [0.1, 0.0, 0.65], [0.2, 0.35, 0.9], [0.35, 0.6, 0.9], [1, 0.65, 0.88]]],
];

// ---------- LAYOUT / STYLE ----------
const FONT = "'Liberation Sans', Arial, Helvetica, sans-serif";
const COL = { cyan: "#00d2d2", blue: "#0000cd", red: "#cd0000", orange: "#cd8500", green: "#00cd00", steel: "#6ca6cd" };
const PANEL_LEFT = [29, 201, 373, 545];
const ROW_TOP = [22, 167, 313, 507, 653, 799];
const PW = 143;
const PH = 118;

function ticksIn(min: number, max: number, step: number) {
  const out: number[] = [];
  const start = Math.ceil((min - 1e-9) / step);
  for (let k = start; k * step <= max + 1e-9; k++) out.push(+(k * step).toFixed(4));
  return out;
}

function catmull(pts: number[][], n = 8) {
  if (pts.length < 3) return pts;
  const out: number[][] = [];
  for (let i = 0; i < pts.length - 1; i++) {
    const p0 = pts[Math.max(0, i - 1)], p1 = pts[i], p2 = pts[i + 1], p3 = pts[Math.min(pts.length - 1, i + 2)];
    for (let s = 0; s < n; s++) {
      const t = s / n, t2 = t * t, t3 = t2 * t;
      const f = (a: number, b: number, c: number, d: number) =>
        0.5 * (2 * b + (-a + c) * t + (2 * a - 5 * b + 4 * c - d) * t2 + (-a + 3 * b - 3 * c + d) * t3);
      out.push([f(p0[0], p1[0], p2[0], p3[0]), f(p0[1], p1[1], p2[1], p3[1])]);
    }
  }
  out.push(pts[pts.length - 1]);
  return out;
}

function buildOption() {
  const grid: any[] = [], xAxis: any[] = [], yAxis: any[] = [], series: any[] = [];
  for (let p = 0; p < 24; p++) {
    const b = p < 12 ? 0 : 1;
    const k = p % 12;
    const row = Math.floor(k / 4) + b * 3;
    const col = k % 4;
    const xs = (b ? XS_B : XS_A)[k];
    const [xmin, xmax] = (b ? X_RANGE_B : X_RANGE_A)[k];
    const step = (b ? X_STEP_B : X_STEP_A)[k];
    const majors = ticksIn(xmin, xmax, step);
    const halves = ticksIn(xmin, xmax, step / 2);
    const dec = step === 0.2 ? 1 : 2;
    const yHalves = ticksIn(Y_RANGE[0], Y_RANGE[1], 0.25);

    grid.push({ left: PANEL_LEFT[col], top: ROW_TOP[row], width: PW, height: PH, show: true,
      backgroundColor: "#ffffff", borderColor: "#ababab", borderWidth: 1 });
    xAxis.push({
      gridIndex: p, type: "value", min: xmin, max: xmax,
      name: TITLES[k], nameLocation: "middle", nameGap: 11,
      nameTextStyle: { fontSize: 10, color: "#1a1a1a", fontFamily: FONT },
      axisLine: { show: false }, splitLine: { show: false },
      axisTick: { show: true, customValues: majors, length: 2.5, lineStyle: { color: "#ababab", width: 0.8 } },
      axisLabel: { customValues: majors, formatter: (v: any) => Number(v).toFixed(dec), fontSize: 7.5,
        color: "#4d4d4d", margin: 3, fontFamily: FONT },
    });
    yAxis.push({
      gridIndex: p, type: "value", min: Y_RANGE[0], max: Y_RANGE[1],
      name: "Prediction", nameLocation: "middle", nameRotate: 90, nameGap: 14,
      nameTextStyle: { fontSize: 9.5, color: "#1a1a1a", fontFamily: FONT },
      axisLine: { show: false }, splitLine: { show: false },
      axisTick: { show: true, customValues: Y_TICKS, length: 2.5, lineStyle: { color: "#ababab", width: 0.8 } },
      axisLabel: { customValues: Y_TICKS, rotate: 90, formatter: (v: any) => Number(v).toFixed(1), fontSize: 7.5,
        color: "#4d4d4d", margin: 3, fontFamily: FONT },
    });

    // grid lines
    series.push({
      type: "custom", xAxisIndex: p, yAxisIndex: p, silent: true, z: 1, data: [[xmin, 0]],
      renderItem: (_params: any, api: any) => {
        const children: any[] = [];
        halves.forEach((v) => {
          const a = api.coord([v, Y_RANGE[0]]), c = api.coord([v, Y_RANGE[1]]);
          const major = majors.includes(v);
          children.push({ type: "line", shape: { x1: a[0], y1: a[1], x2: c[0], y2: c[1] },
            style: { stroke: major ? "#e2e2e2" : "#eeeeee", lineWidth: major ? 0.9 : 0.6 } });
        });
        yHalves.forEach((v) => {
          const a = api.coord([xmin, v]), c = api.coord([xmax, v]);
          const major = Y_TICKS.includes(v);
          children.push({ type: "line", shape: { x1: a[0], y1: a[1], x2: c[0], y2: c[1] },
            style: { stroke: major ? "#e2e2e2" : "#eeeeee", lineWidth: major ? 0.9 : 0.6 } });
        });
        return { type: "group", children };
      },
    });

    // confidence bands
    const bands = (b ? BANDS_B : BANDS_A)[k];
    series.push({
      type: "custom", xAxisIndex: p, yAxisIndex: p, silent: true, z: 2, clip: true, data: [[xmin, 0]],
      renderItem: (_params: any, api: any) => {
        const children = bands.map((band: number[][]) => {
          const top = catmull(band.map((d) => api.coord([d[0], d[2]])));
          const bot = catmull(band.map((d) => api.coord([d[0], d[1]])));
          return { type: "polygon", shape: { points: top.concat(bot.reverse()) },
            style: { fill: "rgba(0,0,0,0.08)" } };
        });
        return { type: "group", children };
      },
    });

    const lineS = (data: number[][], color: string, width: number, z: number) => ({
      type: "line", xAxisIndex: p, yAxisIndex: p, data, smooth: 0.35, showSymbol: false, symbol: "none",
      silent: true, z, lineStyle: { color, width, opacity: 1 }, clip: true,
    });
    const zip = (ys: number[]) => xs.map((x: number, i: number) => [x, ys[i]]);

    series.push(lineS((b ? STEEL_B : STEEL_A)[k], COL.steel, 2.2, 3));
    series.push(lineS(zip((b ? ORANGE_B : ORANGE_A)[k]), COL.orange, 2.4, 3));
    series.push(lineS(zip((b ? RED_B : RED_A)[k]), COL.red, 2.4, 3));
    const g = (b ? GREEN_B : GREEN_A)[k];
    series.push(lineS([[xs[0], g], [xs[xs.length - 1], g]], COL.green, 3, 3));
    series.push(lineS(zip((b ? BLUE_B : BLUE_A)[k]), COL.blue, 2.4, 3));
    series.push(lineS(zip((b ? CYAN_B : CYAN_A)[k]), COL.cyan, 2.4, 3));
    series.push({
      type: "scatter", xAxisIndex: p, yAxisIndex: p, data: (b ? DOTS_B : DOTS_A)[k], symbolSize: 4.8,
      itemStyle: { color: "#000000", opacity: 1, borderWidth: 0 }, silent: true, z: 4,
    });
  }
  return {
    animation: false,
    backgroundColor: "#ffffff",
    grid, xAxis, yAxis, series,
    graphic: [
      { type: "text", left: 3, top: 0, style: { text: BLOCK_LABELS[0], font: "bold 19px 'Liberation Serif', serif", fill: "#000" } },
      { type: "text", left: 3, top: 484, style: { text: BLOCK_LABELS[1], font: "bold 19px 'Liberation Serif', serif", fill: "#000" } },
    ],
  };
}

export default function App() {
  const ref = useRef<HTMLDivElement>(null);
  useEffect(() => {
    document.body.style.margin = "0";
    const chart = echarts.init(ref.current as HTMLDivElement, undefined, { renderer: "svg" });
    chart.setOption(buildOption() as any);
    return () => chart.dispose();
  }, []);
  return <div ref={ref} style={{ width: 692, height: 943 }} />;
}
